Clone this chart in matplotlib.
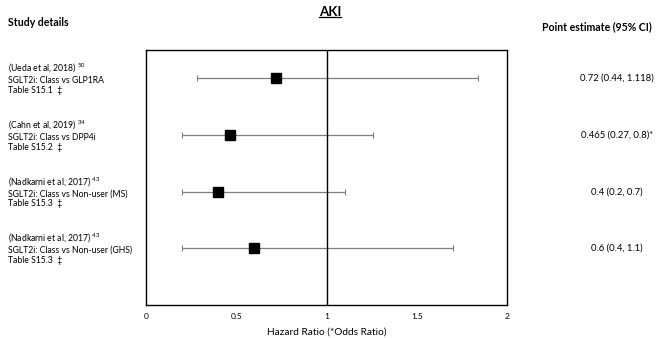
import matplotlib.pyplot as plt
from matplotlib.lines import Line2D

plt.rcParams['font.family'] = ['Lato', 'DejaVu Sans']
plt.rcParams['mathtext.fontset'] = 'custom'
plt.rcParams['mathtext.rm'] = 'Lato'

# data
studies = ['(Ueda et al, 2018)', '(Cahn et al, 2019)', '(Nadkarni et al, 2017)', '(Nadkarni et al, 2017)']
refs = ['50', '34', '43', '43']
comparisons = ['SGLT2i: Class vs GLP1RA', 'SGLT2i: Class vs DPP4i',
               'SGLT2i: Class vs Non-user (MS)', 'SGLT2i: Class vs Non-user (GHS)']
tables = ['Table S15.1  \u2021', 'Table S15.2  \u2021', 'Table S15.3  \u2021', 'Table S15.3  \u2021']
estimates = [0.72, 0.465, 0.4, 0.6]
ci_low = [0.28, 0.2, 0.2, 0.2]
ci_high = [1.84, 1.26, 1.1, 1.7]
estimate_labels = ['0.72 (0.44, 1.118)', '0.465 (0.27, 0.8)*', '0.4 (0.2, 0.7)', '0.6 (0.4, 1.1)']
xticks = [0, 0.5, 1, 1.5, 2]
xtick_labels = ['0', '0.5', '1', '1.5', '2']

fig = plt.figure(figsize=(6.6, 3.38), dpi=100)
ax = fig.add_axes([0.2212, 0.0976, 0.547, 0.754])

rows = list(range(len(studies), 0, -1))
err_lo = [e - l for e, l in zip(estimates, ci_low)]
err_hi = [h - e for e, h in zip(estimates, ci_high)]
ax.errorbar(estimates, rows, xerr=[err_lo, err_hi], fmt='none', ecolor='#7f7f7f',
            elinewidth=0.9, capsize=2.5, capthick=0.8)
ax.plot(estimates, rows, 's', color='black', markersize=7.5)
ax.axvline(1, color='black', linewidth=1)

ax.set_xlim(0, 2)
ax.set_ylim(0, 4.5)
ax.set_yticks([])
ax.set_xticks(xticks)
ax.set_xticklabels(xtick_labels, fontsize=6)
ax.tick_params(axis='x', length=0, pad=6)
for s in ax.spines.values():
    s.set_color('black')
    s.set_linewidth(1)
ax.set_xlabel('Hazard Ratio (*Odds Ratio)', fontsize=7.3, labelpad=5)

# left study details and right estimates
for r, st, rf, cp, tb, lab in zip(rows, studies, refs, comparisons, tables, estimate_labels):
    yf = ax.transData.transform((0, r))[1] / fig.bbox.height
    block = st + r' $^{' + rf + '}$' + '\n' + cp + '\n' + tb
    fig.text(8 / 660, yf, block, fontsize=6.2, va='center', ha='left',
             linespacing=1.12)
    fig.text(617 / 660, yf, lab, fontsize=6.8, va='center', ha='center')

fig.text(8 / 660, 1 - 22 / 338, 'Study details', fontsize=7.6, fontweight='bold', va='center')
fig.text(597 / 660, 1 - 27 / 338, 'Point estimate (95% CI)', fontsize=7.6, fontweight='bold',
         va='center', ha='center')
title = fig.text(330 / 660, 1 - 12 / 338, 'AKI', fontsize=9.5, fontweight='bold',
                 va='center', ha='center')

# underline the title
fig.canvas.draw()
bb = title.get_window_extent().transformed(fig.transFigure.inverted())
fig.add_artist(Line2D([bb.x0, bb.x1], [bb.y0 + 0.002, bb.y0 + 0.002], color='black',
                      linewidth=0.9, transform=fig.transFigure))

fig.savefig('out.png', dpi=100)
